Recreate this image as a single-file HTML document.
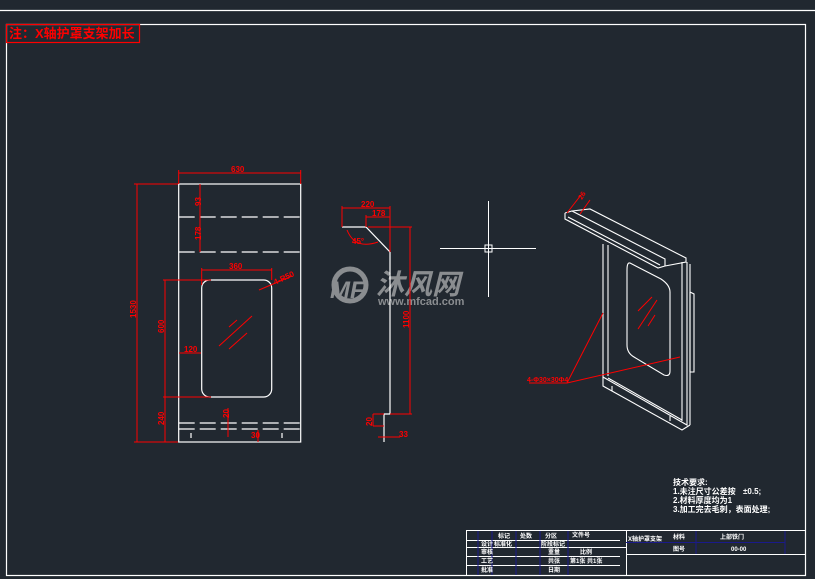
<!DOCTYPE html>
<html><head><meta charset="utf-8"><style>
html,body{margin:0;padding:0;background:#212830;}
svg{display:block}
text{font-family:"Liberation Sans","Noto Sans CJK SC",sans-serif;}
</style></head><body>
<svg width="815" height="579" viewBox="0 0 815 579" xmlns="http://www.w3.org/2000/svg">
<rect width="815" height="579" fill="#212830"/>
<g stroke="#fff" stroke-width="1.2" fill="none">
<line x1="0" y1="10.5" x2="815" y2="10.5"/>
<rect x="6.5" y="24.5" width="799" height="551"/>
</g>
<!-- note -->
<rect x="6.5" y="24.5" width="133" height="18" fill="none" stroke="#f00" stroke-width="1.2"/>
<text x="9" y="38" font-size="13" fill="#f00" font-weight="bold">注：X轴护罩支架加长</text>

<!-- watermark -->
<g fill="#8a8d90">
<circle cx="350" cy="285" r="16" fill="none" stroke="#8a8d90" stroke-width="5"/>
<text x="330" y="298" font-size="24" font-weight="bold" font-style="italic">MF</text>
<text x="376" y="294" font-size="28" font-weight="bold" font-style="italic">沐风网</text>
<text x="378" y="305" font-size="11" font-weight="bold">www.mfcad.com</text>
</g>

<!-- front view -->
<g stroke="#fff" stroke-width="1.2" fill="none">
<rect x="178.7" y="184" width="122" height="258"/>
<line x1="178.7" y1="217" x2="300.7" y2="217" stroke-dasharray="16,5"/>
<line x1="178.7" y1="252" x2="300.7" y2="252" stroke-dasharray="16,5"/>
<line x1="178.7" y1="423" x2="300.7" y2="423" stroke-dasharray="16,5"/>
<line x1="178.7" y1="429" x2="300.7" y2="429" stroke-dasharray="16,5"/>
<rect x="201.7" y="280" width="70" height="117" rx="8"/>
<line x1="191" y1="433" x2="191" y2="438"/><line x1="282" y1="433" x2="282" y2="438"/>
</g>
<g stroke="#f00" stroke-width="1" fill="none">
<line x1="178.7" y1="173" x2="300.7" y2="173"/><line x1="178.7" y1="170" x2="178.7" y2="184"/><line x1="300.7" y1="170" x2="300.7" y2="184"/>
<line x1="137" y1="184" x2="137" y2="442"/><line x1="134" y1="184" x2="178" y2="184"/><line x1="134" y1="442" x2="178" y2="442"/>
<line x1="200" y1="184" x2="200" y2="252"/>
<line x1="201.7" y1="270" x2="271.7" y2="270"/><line x1="201.7" y1="268" x2="201.7" y2="285"/><line x1="271.7" y1="268" x2="271.7" y2="280"/>
<line x1="165" y1="280" x2="165" y2="442"/><line x1="163" y1="280" x2="211" y2="280"/><line x1="163" y1="397" x2="211" y2="397"/>
<line x1="179" y1="353" x2="201" y2="353"/>
<line x1="259" y1="290" x2="292" y2="276"/>
<line x1="219" y1="346" x2="252" y2="316"/><line x1="229" y1="349" x2="247" y2="333"/><line x1="229" y1="327" x2="237" y2="320"/>
<line x1="228" y1="408" x2="228" y2="437"/><line x1="258" y1="430" x2="258" y2="442"/>
</g>
<g fill="#f00" font-size="8" font-weight="bold">
<text x="231" y="172">630</text>
<text x="136" y="318" transform="rotate(-90 136 318)" >1530</text>
<text x="201" y="206" transform="rotate(-90 201 206)">93</text>
<text x="201" y="240" transform="rotate(-90 201 240)">178</text>
<text x="229" y="269">360</text>
<text x="275" y="285" transform="rotate(-25 275 285)">4-R50</text>
<text x="164" y="333" transform="rotate(-90 164 333)">600</text>
<text x="184" y="352">120</text>
<text x="164" y="425" transform="rotate(-90 164 425)">240</text>
<text x="229" y="418" transform="rotate(-90 229 418)">20</text>
<text x="251" y="438">30</text>
</g>

<!-- side view -->
<g stroke="#fff" stroke-width="1.2" fill="none">
<polyline points="342,227 366,227 390,252 390,414 384,414 384,442"/>
</g>
<g stroke="#f00" stroke-width="1" fill="none">
<line x1="342" y1="208" x2="390" y2="208"/><line x1="342" y1="206" x2="342" y2="227"/><line x1="390" y1="206" x2="390" y2="252"/>
<line x1="366" y1="217" x2="390" y2="217"/><line x1="366" y1="215" x2="366" y2="227"/>
<line x1="410" y1="227" x2="410" y2="414"/><line x1="368" y1="227" x2="412" y2="227"/><line x1="390" y1="414" x2="412" y2="414"/>
<path d="M347,230 Q355,250 378,242"/>
<line x1="373" y1="414" x2="373" y2="426"/><line x1="373" y1="414" x2="384" y2="414"/><line x1="373" y1="426" x2="384" y2="426"/>
<line x1="378" y1="437" x2="400" y2="437"/>
</g>
<g fill="#f00" font-size="8" font-weight="bold">
<text x="361" y="207">220</text><text x="372" y="216">178</text>
<text x="352" y="244">45°</text>
<text x="409" y="328" transform="rotate(-90 409 328)">1100</text>
<text x="372" y="426" transform="rotate(-90 372 426)">20</text>
<text x="399" y="437">33</text>
</g>

<!-- crosshair -->
<g stroke="#fff" stroke-width="1" fill="none">
<line x1="440" y1="248.5" x2="536" y2="248.5"/><line x1="488.5" y1="201" x2="488.5" y2="297"/>
<rect x="485" y="245" width="7" height="7"/>
</g>

<!-- iso view -->
<g stroke="#fff" stroke-width="1.1" fill="none">
<polyline points="565,213 572,211 665,259 665,266 658,268 565,219 565,213"/>
<polyline points="572,211 590,209 686,258 686,262 665,266"/>
<line x1="568" y1="217" x2="660" y2="265"/>
<polyline points="603,244 603,377 687,425 687,262"/>
<line x1="608" y1="245" x2="608" y2="376"/>
<line x1="682" y1="262" x2="682" y2="421"/>
<line x1="690" y1="264" x2="690" y2="425"/>
<polyline points="603,377 603,386 682,430 690,425"/>
<line x1="608" y1="378" x2="682" y2="420"/>
<line x1="690" y1="292" x2="690" y2="372"/><polyline points="690,292 694,294 694,372 690,372"/>
<path d="M630,263 L661,279 Q670,285 670,292 L670,371 Q670,377 664,375 L634,357 Q627,353 627,345 L627,270 Q627,262 630,263 Z"/>
<line x1="612" y1="386" x2="612" y2="391"/><line x1="670" y1="416" x2="670" y2="421"/>
</g>
<g stroke="#f00" stroke-width="1" fill="none">
<line x1="638" y1="311" x2="652" y2="297"/><line x1="638" y1="329" x2="657" y2="300"/><line x1="648" y1="326" x2="655" y2="315"/>
<line x1="567" y1="213" x2="581" y2="195"/><line x1="580" y1="214" x2="590" y2="200"/>
<polyline points="603,313 567,383 529,383"/>
<line x1="567" y1="383" x2="680" y2="357"/>
</g>
<text x="527" y="382" font-size="7" fill="#f00" font-weight="bold">4-Φ30×30Φ4</text>
<text x="582" y="200" font-size="7" fill="#f00" font-weight="bold" transform="rotate(-60 582 200)">26</text>

<!-- tech notes -->
<g fill="#fff" font-size="8" font-weight="bold">
<text x="673" y="485">技术要求:</text>
<text x="673" y="494">1.未注尺寸公差按</text><text x="743" y="494">±0.5;</text>
<text x="673" y="503">2.材料厚度均为1</text>
<text x="673" y="512">3.加工完去毛刺，表面处理;</text>
</g>

<!-- title block -->
<g stroke="#fff" stroke-width="1" fill="none">
<rect x="466.5" y="530.5" width="339" height="45"/>
<line x1="626.5" y1="530" x2="626.5" y2="575"/>
<line x1="466" y1="540.5" x2="620" y2="540.5"/>
<line x1="466" y1="547.5" x2="626" y2="547.5"/>
<line x1="466" y1="556.5" x2="620" y2="556.5"/>
<line x1="466" y1="565.5" x2="620" y2="565.5"/>
<line x1="626" y1="554.5" x2="805" y2="554.5"/>
</g>
<g stroke="#1a1a8a" stroke-width="1">
<line x1="478" y1="531" x2="478" y2="575"/><line x1="492" y1="531" x2="492" y2="575"/>
<line x1="516" y1="531" x2="516" y2="575"/><line x1="540" y1="531" x2="540" y2="575"/>
<line x1="568" y1="531" x2="568" y2="575"/>
<line x1="626" y1="542.5" x2="785" y2="542.5"/>
<line x1="696" y1="531" x2="696" y2="554"/><line x1="785" y1="531" x2="785" y2="554"/>
</g>
<g fill="#fff" font-size="6" font-weight="bold">
<text x="498" y="538">标记</text><text x="520" y="538">处数</text><text x="545" y="538">分区</text><text x="572" y="537">文件号</text>
<text x="481" y="546">设计</text><text x="494" y="546">标准化</text><text x="541" y="546">阶段标记</text>
<text x="481" y="554">审核</text><text x="548" y="554">重量</text><text x="580" y="554">比例</text>
<text x="481" y="563">工艺</text><text x="548" y="563">共张</text><text x="570" y="563">第1张 共1张</text>
<text x="481" y="572">批准</text><text x="548" y="572">日期</text>
<text x="628" y="541">X轴护罩支架</text>
<text x="673" y="539">材料</text><text x="720" y="539">上部铁门</text>
<text x="673" y="551">图号</text><text x="731" y="551">00-00</text>
</g>
</svg>
</body></html>
